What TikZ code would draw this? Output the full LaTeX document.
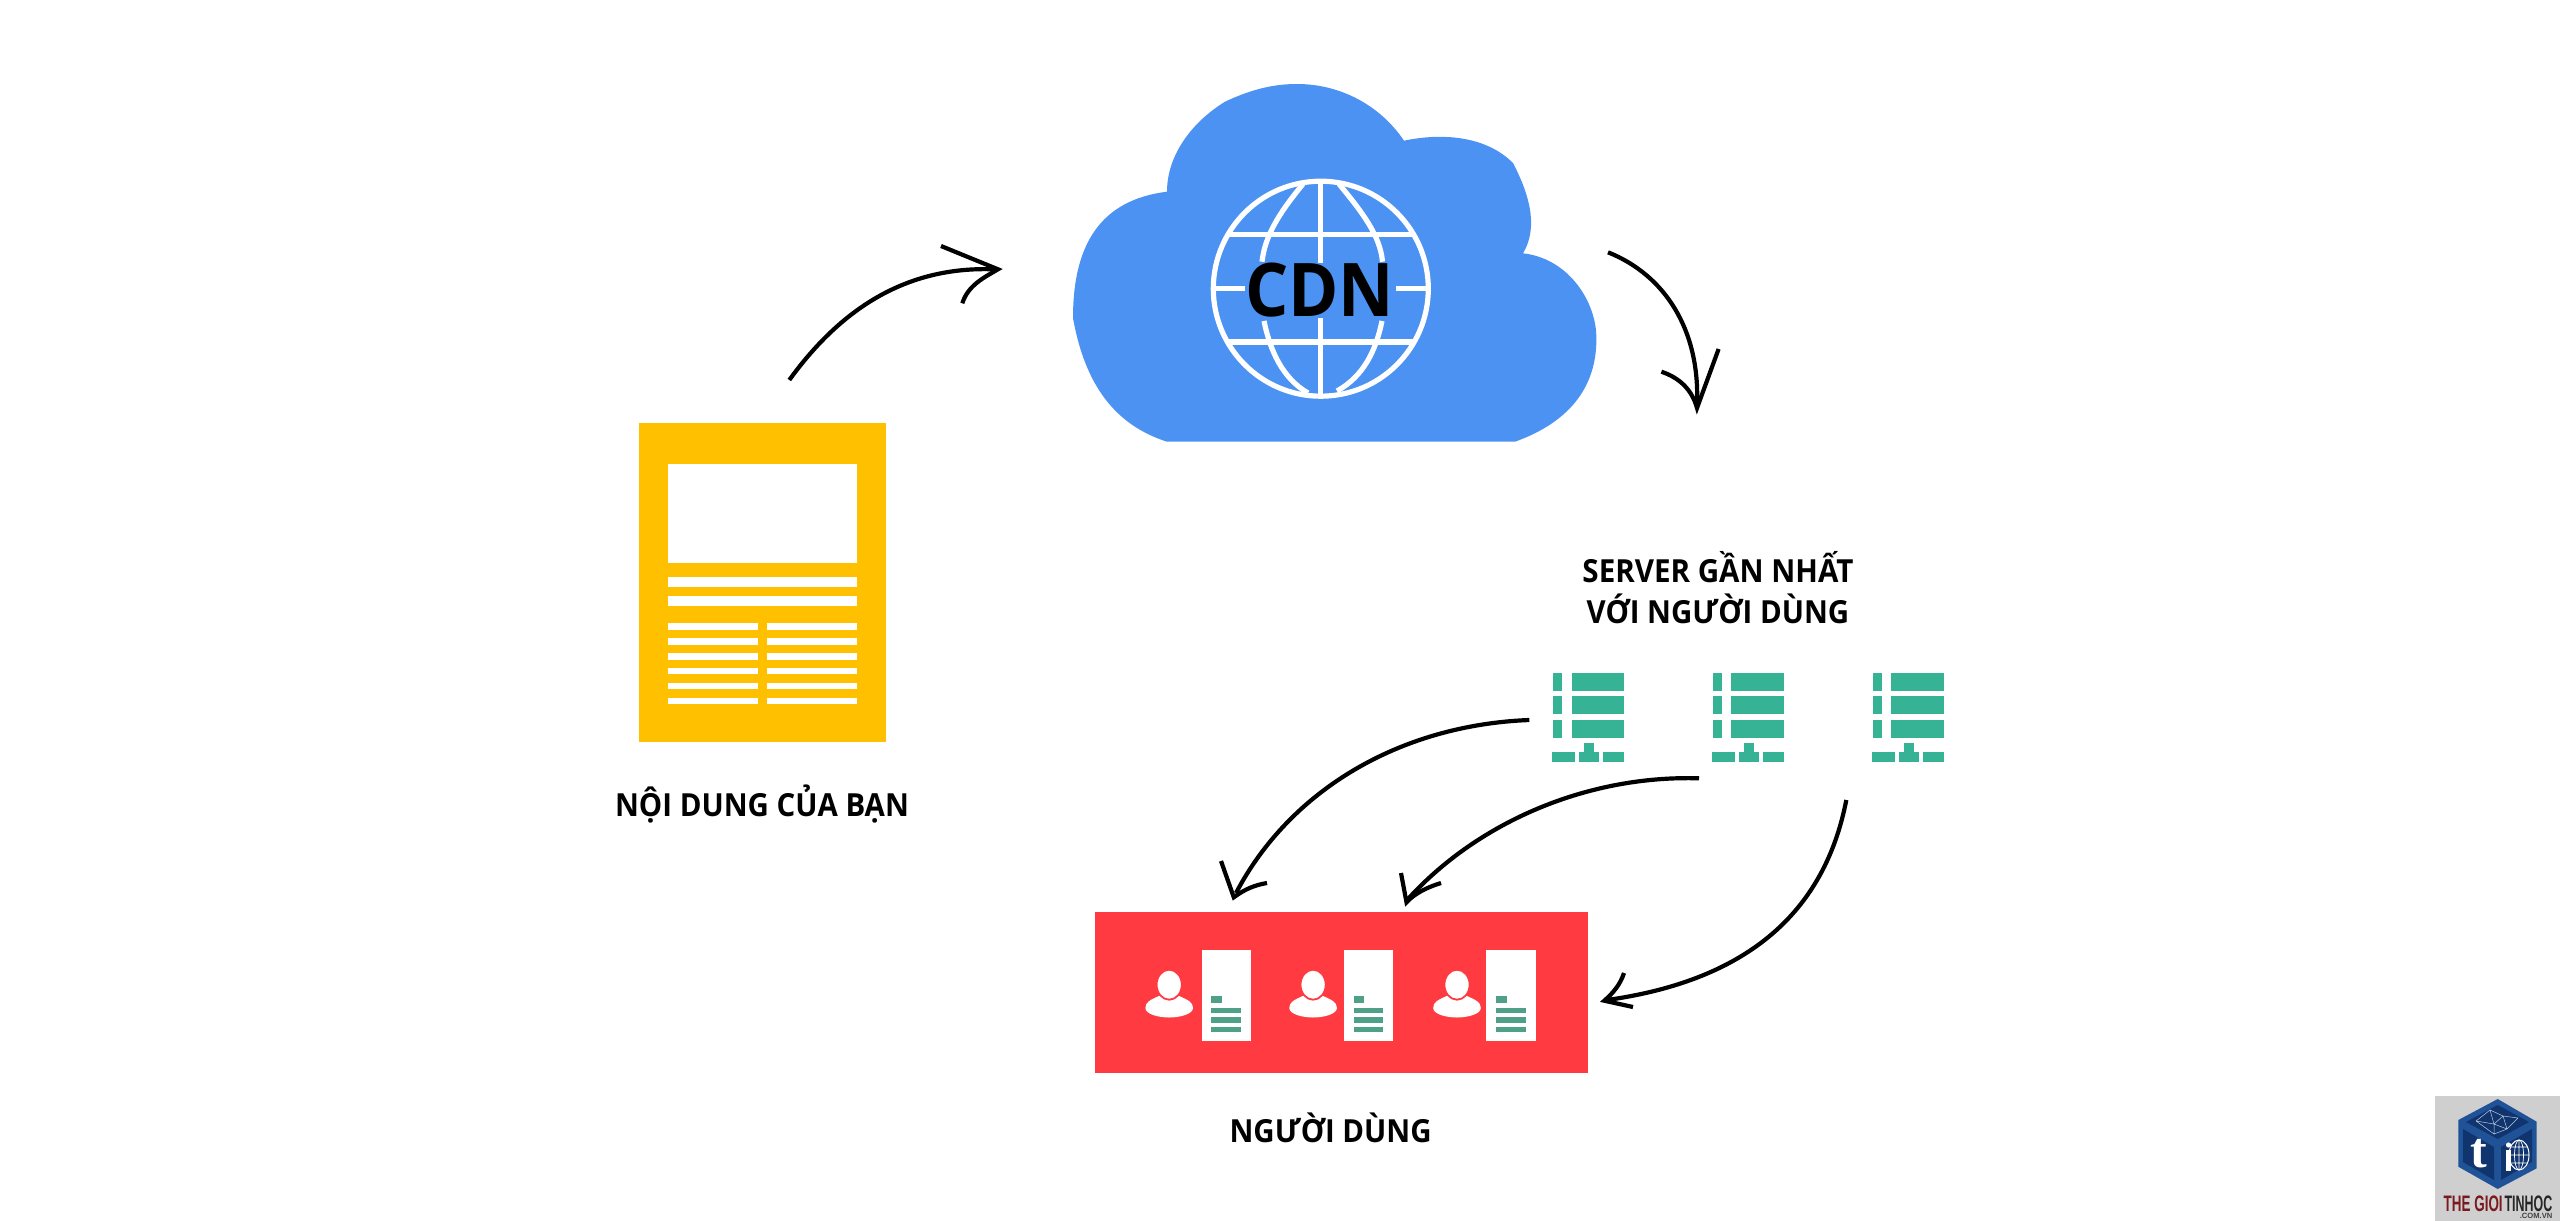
\documentclass[tikz,border=0pt]{standalone}
\usepackage{fontspec}
\setmainfont{Open Sans}
\newfontfamily\logofont{Liberation Sans}
\newfontfamily\logoserif{Liberation Serif}
\definecolor{cloudblue}{HTML}{4B92F3}
\definecolor{docyellow}{HTML}{FFC000}
\definecolor{userred}{HTML}{FF3B41}
\definecolor{srvgreen}{HTML}{36B294}
\definecolor{bargreen}{HTML}{4FA088}
\definecolor{logogrey}{HTML}{CFCFCF}
\definecolor{cubeface}{HTML}{1F5296}
\definecolor{cubedark}{HTML}{10346E}
\definecolor{logored}{HTML}{7A1A1F}
\tikzset{
  flow/.style={line width=2.1pt,black,line cap=butt},
  barb/.style={line width=2.1pt,black,line join=miter,miter limit=12},
  gridline/.style={line width=2.6pt,white},
  lab/.style={anchor=base,inner sep=0pt,font=\fontsize{15.9}{15.9}\selectfont\bfseries,text=black},
  whitebar/.style={fill=white},
}
\begin{document}
\begin{tikzpicture}[x=0.5pt,y=-0.5pt]
\useasboundingbox (0,0) rectangle (2560,1221);
\fill[white] (0,0) rectangle (2560,1221);

% cloud
\fill[cloudblue] (1167,441.7) -- (1515,441.7)
  .. controls (1570,422) and (1600,385) .. (1596,330)
  .. controls (1592,295) and (1565,258) .. (1523,253.3)
  .. controls (1540,225) and (1527,190) .. (1513,163)
  .. controls (1485,135) and (1440,133) .. (1404,140.7)
  .. controls (1380,105) and (1340,84) .. (1297,84)
  .. controls (1272,84) and (1250,90) .. (1225,101.7)
  .. controls (1192,122) and (1167,155) .. (1167,191.7)
  .. controls (1100,200) and (1073,245) .. (1073,318)
  .. controls (1085,385) and (1115,425) .. (1167,441.7) -- cycle;
% globe
\draw[gridline] (1320.8,288.7) circle[radius=107.5];
\draw[gridline] (1320.8,181) -- (1320.8,263) (1320.8,318) -- (1320.8,396);
\draw[gridline] (1228,234.5) -- (1413,234.5) (1228,342) -- (1413,342);
\draw[gridline] (1215,288.8) -- (1244.5,288.8) (1396,288.8) -- (1426,288.8);
\draw[gridline] (1303,184) .. controls (1280,212) and (1265,235) .. (1262,261.7);
\draw[gridline] (1264,321) .. controls (1270,350) and (1282,378) .. (1308,393);
\draw[gridline] (1339,184) .. controls (1362,212) and (1380,235) .. (1382.5,261.7);
\draw[gridline] (1382,321) .. controls (1376,350) and (1364,376) .. (1337,391);
\node[anchor=base,inner sep=0pt,font=\fontsize{37}{37}\selectfont\bfseries] (cdn) at (1319.7,316) {\scalebox{0.92}[1]{CDN}};

% document
\node[fill=docyellow,minimum width=123.35pt,minimum height=159.2pt,inner sep=0pt] (doc) at (762.65,582.5) {};
\fill[whitebar] (668.3,464.3) rectangle (856.7,563.3);
\fill[whitebar] (668.3,577) rectangle (856.7,587);
\fill[whitebar] (668.3,596.3) rectangle (856.7,606.3);
\foreach \k in {0,...,5}{
  \fill[whitebar] (668.3,623.3+14.9*\k) rectangle (757.7,629.7+14.9*\k);
  \fill[whitebar] (767,623.3+14.9*\k) rectangle (856.7,629.7+14.9*\k);
}
\node[lab] (doclabel) at (762,816) {\scalebox{0.925}[1]{NỘI DUNG CỦA BẠN}};

% servers
\node[lab] (srvlabela) at (1718,582.7) {\scalebox{0.93}[1]{SERVER GẦN NHẤT}};
\node[lab] (srvlabelb) at (1718,623.3) {\scalebox{0.925}[1]{VỚI NGƯỜI DÙNG}};
\foreach \dx in {0,159.7,319.7}{
 \begin{scope}[shift={(\dx,0)}]
  \foreach \ya/\yb in {672.7/690.7,696.3/714.3,720.3/738.3}{
    \fill[srvgreen] (1553.3,\ya) rectangle (1562.3,\yb);
    \fill[srvgreen] (1571.7,\ya) rectangle (1624,\yb);
  }
  \fill[srvgreen] (1584,742.7) rectangle (1594,752.3);
  \fill[srvgreen] (1579.3,752.3) rectangle (1599,761.7);
  \fill[srvgreen] (1552.3,752.3) rectangle (1575,761.7);
  \fill[srvgreen] (1603.3,752.3) rectangle (1624,761.7);
 \end{scope}
}

% users
\node[fill=userred,minimum width=246.55pt,minimum height=80.5pt,inner sep=0pt] (users) at (1341.75,992.5) {};
\foreach \p/\c in {0/0,143.9/142.4,287.8/284.7}{
 \begin{scope}[shift={(\c,0)}]
  \fill[white] (1201.6,950.3) rectangle (1250.8,1041);
  \fill[bargreen] (1211.2,996) rectangle (1221.9,1002.7);
  \fill[bargreen] (1211.2,1007.7) rectangle (1240.8,1013.3);
  \fill[bargreen] (1211.2,1017.3) rectangle (1240.8,1022.7);
  \fill[bargreen] (1211.2,1027) rectangle (1240.8,1032.3);
 \end{scope}
 \begin{scope}[shift={(\p,0)}]
  \fill[white] (1145.4,1008) .. controls (1145.4,1002) and (1150,1000) .. (1160,995.5)
     -- (1178,995.5) .. controls (1188,1000) and (1193,1002) .. (1193,1008)
     .. controls (1193,1014) and (1180,1017.5) .. (1169.2,1017.5)
     .. controls (1158,1017.5) and (1145.4,1014) .. (1145.4,1008) -- cycle;
  \draw[userred,line width=0.9pt,fill=white] (1169.2,984.7) ellipse[x radius=12.6,y radius=15];
 \end{scope}
}
\node[lab] (userlabel) at (1330.6,1142) {\scalebox{0.925}[1]{NGƯỜI DÙNG}};

% connector ends
\coordinate (a1s) at (789.3,380);
\coordinate (a1t) at (998,269.3);
\coordinate (a2s) at (1608,252.3);
\coordinate (a2t) at (1697,408);
\coordinate (a3s) at (1529.3,720);
\coordinate (a3t) at (1233.8,897.3);
\coordinate (a4s) at (1699,778.3);
\coordinate (a4t) at (1406.5,902.3);
\coordinate (a5s) at (1846.3,800);
\coordinate (a5t) at (1604.3,1000.7);

\draw[flow] (a1s) .. controls (840,310) and (905,266) .. (994,269.3);
\draw[barb] (941,246) -- (a1t) .. controls (985,277) and (968,285) .. (962.3,303.3);
\draw[flow] (a2s) .. controls (1665,275) and (1700,330) .. (1697,404);
\draw[barb] (1718.6,349) -- (a2t) .. controls (1692,390) and (1680,378) .. (1661.4,371.7);
\draw[flow] (a3s) .. controls (1400,725) and (1290,790) .. (1236,893);
\draw[barb] (1221,861) -- (a3t) .. controls (1245,889) and (1255,885) .. (1267,883);
\draw[flow] (a4s) .. controls (1590,775) and (1480,820) .. (1408,899);
\draw[barb] (1401,873) -- (a4t) .. controls (1415,893) and (1428,887) .. (1441,883);
\draw[flow] (a5s) .. controls (1825,910) and (1750,980) .. (1607,1000);
\draw[barb] (1624,973) .. controls (1620,985) and (1613,993) .. (a5t) -- (1633,1007);

% logo
\fill[logogrey] (2435,1096) rectangle (2560,1221);
\fill[cubeface] (2497.7,1099) -- (2536.7,1121.7) -- (2536.7,1168.3) -- (2497.7,1189) -- (2458.3,1166.7) -- (2458.3,1120) -- cycle;
\fill[cubedark] (2497.7,1105) -- (2529,1122) -- (2497.7,1139) -- (2466,1122) -- cycle;
\fill[cubedark] (2463,1129) -- (2494,1147) -- (2494,1180) -- (2463,1162) -- cycle;
\fill[cubedark] (2532,1129) -- (2501,1147) -- (2501,1180) -- (2532,1162) -- cycle;
\draw[white!70!cubeface,line width=0.25pt] (2476,1121) -- (2490,1110) -- (2503,1116) -- (2518,1118) -- (2507,1129) -- (2494,1134) -- (2476,1121) (2490,1110) -- (2494,1124) -- (2507,1129) (2503,1116) -- (2494,1124) -- (2476,1121) (2494,1124) -- (2494,1134) (2503,1116) -- (2507,1129);
\node[inner sep=0pt,font=\logoserif\bfseries\fontsize{25}{25}\selectfont,text=white] (logot) at (2479,1154) {t};
\draw[white,line width=0.5pt] (2519,1155) ellipse[x radius=10,y radius=15];
\draw[white,line width=0.35pt] (2519,1140) -- (2519,1170) (2519,1155) ellipse[x radius=4.5,y radius=15] (2509,1155) -- (2529,1155) (2511,1147) -- (2527,1147) (2511,1163) -- (2527,1163);
\fill[white] (2506,1150) rectangle (2511,1171);
\fill[white] (2508.5,1145) circle[radius=2.6];
\node[anchor=base west,inner sep=0pt,font=\logofont\bfseries\fontsize{11.2}{11.2}\selectfont,text=logored] (logoa) at (2443.3,1211) {\scalebox{0.6}[1]{THE GIOI}};
\node[anchor=base east,inner sep=0pt,font=\logofont\bfseries\fontsize{11.2}{11.2}\selectfont,text=black!85] (logob) at (2552.7,1211) {\scalebox{0.556}[1]{TINHOC}};
\node[anchor=base east,inner sep=0pt,font=\logofont\bfseries\fontsize{3.8}{3.8}\selectfont,text=black!75] (logoc) at (2552.7,1218.5) {.COM.VN};
\end{tikzpicture}
\end{document}
